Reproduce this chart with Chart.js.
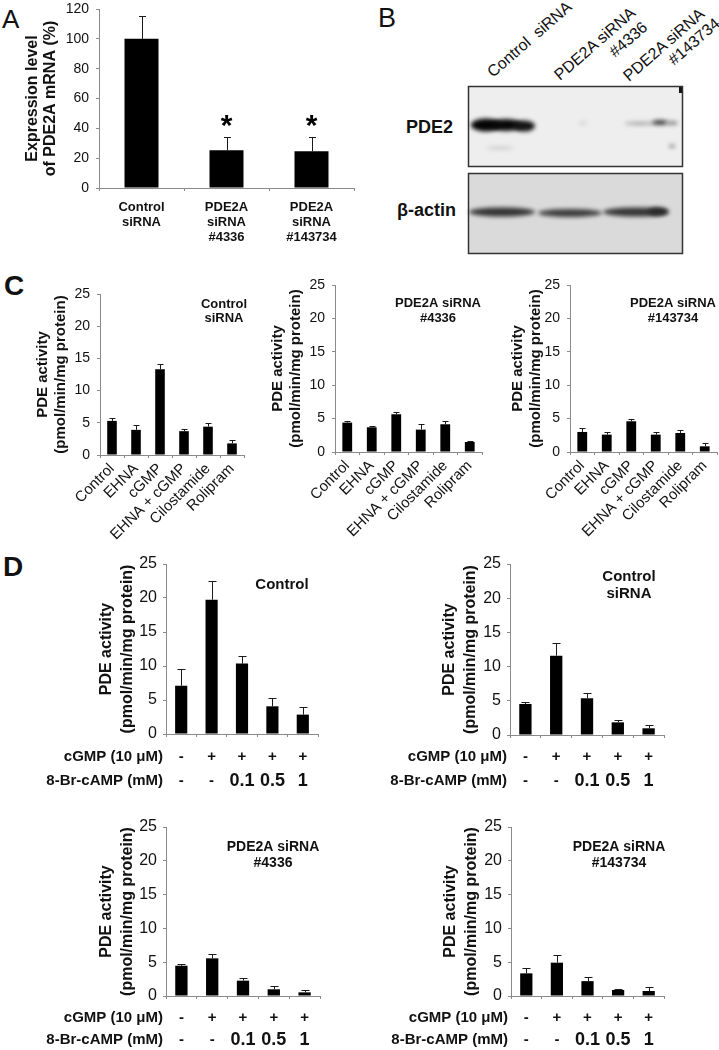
<!DOCTYPE html>
<html>
<head>
<meta charset="utf-8">
<script src="https://cdn.jsdelivr.net/npm/chart.js@4.4.1/dist/chart.umd.min.js"></script>
<style>
  body { margin: 0; background: #fff; width: 719px; height: 1050px; position: relative; overflow: hidden;
         font-family: Arial, "Liberation Sans", sans-serif; color: #111; }
  canvas { position: absolute; }
  .letter { position: absolute; line-height: 1; }
  .rot { position: absolute; font-size: 16px; line-height: 1; white-space: pre;
         transform-origin: 0 0; transform: rotate(-41deg) translate(0, -13px); }
  .blotlbl { position: absolute; font-size: 18px; font-weight: bold; line-height: 1; }
</style>
</head>
<body>
<div class="letter" style="left:2px;top:6px;font-size:26px;">A</div>
<div class="letter" style="left:378px;top:5px;font-size:27px;">B</div>
<div class="letter" style="left:4px;top:272px;font-size:28px;font-weight:bold;">C</div>
<div class="letter" style="left:3px;top:553px;font-size:28px;font-weight:bold;">D</div>

<div class="rot" style="left:493px;top:78px;">Control  siRNA</div>
<div class="rot" style="left:560px;top:81px;">PDE2A siRNA</div>
<div class="rot" style="left:615px;top:58px;">#4336</div>
<div class="rot" style="left:629px;top:82px;">PDE2A siRNA</div>
<div class="rot" style="left:674px;top:66px;">#143734</div>
<div class="blotlbl" style="left:406px;top:118px;">PDE2</div>
<div class="blotlbl" style="left:397px;top:201px;">β-actin</div>

<canvas id="blot" width="230" height="180" style="left:460px;top:80px;"></canvas>
<canvas id="chartA"></canvas>
<canvas id="chartC1"></canvas>
<canvas id="chartC2"></canvas>
<canvas id="chartC3"></canvas>
<canvas id="chartD1"></canvas>
<canvas id="chartD2"></canvas>
<canvas id="chartD3"></canvas>
<canvas id="chartD4"></canvas>

<script>
// ---- data ----
// Panel A: PDE2A mRNA expression (%)
const aLabels = [['Control', 'siRNA'], ['PDE2A', 'siRNA', '#4336'], ['PDE2A', 'siRNA', '#143734']];
const aValues = [100, 25.3, 24.7];
const aErrors = [15, 8.7, 9.6];
const aStars = ['', '*', '*'];

// Panel C: PDE activity with inhibitors
const cLabels = ['Control', 'EHNA', 'cGMP', 'EHNA + cGMP', 'Cilostamide', 'Rolipram'];
const cControlSi = [5.3, 3.9, 13.3, 3.7, 4.4, 1.8];
const cControlSiErr = [0.5, 0.7, 0.9, 0.3, 0.6, 0.5];
const c4336 = [4.4, 3.7, 5.65, 3.35, 4.15, 1.5];
const c4336Err = [0.25, 0.2, 0.35, 0.8, 0.5, 0.15];
const c143734 = [3.0, 2.6, 4.6, 2.6, 2.85, 0.85];
const c143734Err = [0.65, 0.4, 0.3, 0.4, 0.5, 0.5];

// Panel D: cGMP / 8-Br-cAMP
const dCgmp = ['-', '+', '+', '+', '+'];
const dBrCamp = ['-', '-', '0.1', '0.5', '1'];
const dControl = [7.1, 19.75, 10.35, 4.07, 2.85];
const dControlErr = [2.4, 2.7, 1.15, 1.23, 1.12];
const dControlSi = [4.54, 11.6, 5.37, 1.85, 0.98];
const dControlSiErr = [0.24, 1.8, 0.83, 0.35, 0.48];
const d4336 = [4.48, 5.57, 2.27, 0.99, 0.54];
const d4336Err = [0.2, 0.63, 0.39, 0.49, 0.35];
const d143734 = [3.35, 4.93, 2.2, 0.89, 0.74];
const d143734Err = [0.85, 1.13, 0.56, 0.19, 0.54];

const pdeTitle = ['PDE activity', '(pmol/min/mg protein)'];
const FONT = 'Arial, "Liberation Sans", sans-serif';

Chart.defaults.font.family = FONT;
Chart.defaults.color = '#111';

// error bars, stars, in-plot titles and the +/- rows under panel D
function extrasPlugin(errors, opt) {
    return {
        id: 'extras',
        afterDatasetsDraw: function(chart) {
            var ctx = chart.ctx;
            var area = chart.chartArea;
            var xs = chart.scales.x;
            var ys = chart.scales.y;
            var vals = chart.data.datasets[0].data;
            var bars = chart.getDatasetMeta(0).data;
            ctx.save();
            ctx.strokeStyle = '#1a1a1a';
            ctx.lineWidth = 1;
            bars.forEach(function(bar, i) {
                var yTop = Math.round(ys.getPixelForValue(vals[i] + errors[i])) + 0.5;
                var x = Math.round(bar.x) + 0.5;
                ctx.beginPath();
                ctx.moveTo(x, bar.y);
                ctx.lineTo(x, yTop);
                ctx.moveTo(x - opt.cap, yTop);
                ctx.lineTo(x + opt.cap, yTop);
                ctx.stroke();
                if (opt.stars && opt.stars[i]) {
                    ctx.fillStyle = '#000';
                    ctx.font = 'bold 30px ' + FONT;
                    ctx.textAlign = 'center';
                    ctx.textBaseline = 'alphabetic';
                    ctx.fillText(opt.stars[i], bar.x, yTop - 3);
                }
            });

            ctx.fillStyle = '#111';
            if (opt.title) {
                ctx.font = 'bold ' + opt.title.size + 'px ' + FONT;
                ctx.textAlign = 'center';
                ctx.textBaseline = 'middle';
                opt.title.lines.forEach(function(t, i) {
                    ctx.fillText(t, area.left + opt.title.dx, area.top + opt.title.dy + i * opt.title.lh);
                });
            }

            if (opt.rows) {
                ctx.textBaseline = 'middle';
                opt.rows.forEach(function(row) {
                    var y = area.bottom + row.dy;
                    ctx.font = 'bold 15px ' + FONT;
                    ctx.textAlign = 'right';
                    ctx.fillText(row.label, area.left - 3, y);
                    ctx.textAlign = 'center';
                    row.values.forEach(function(v, i) {
                        ctx.font = (v === '+' || v === '-') ? 'bold 15px ' + FONT : 'bold 18px ' + FONT;
                        ctx.fillText(v, xs.getPixelForValue(i), y);
                    });
                });
            }
            ctx.restore();
        }
    };
}

// box = where the plot area sits on the page
function makeChart(id, box, labels, values, errors, opt) {
    var cv = document.getElementById(id);
    var left = box.canvasLeft;
    var top = box.top - box.padTop;
    var w = box.right + box.padRight - left;
    var h = box.bottom + box.xH - top;
    cv.width = w;
    cv.height = h;
    cv.style.left = left + 'px';
    cv.style.top = top + 'px';
    cv.style.width = w + 'px';
    cv.style.height = h + 'px';

    var xTicks = opt.xTicks || { display: false };

    return new Chart(cv, {
        type: 'bar',
        data: {
            labels: labels,
            datasets: [{
                data: values,
                backgroundColor: '#000',
                borderWidth: 0,
                barPercentage: 0.4,
                categoryPercentage: 1
            }]
        },
        options: {
            responsive: false,
            animation: false,
            devicePixelRatio: 1,
            layout: { padding: { top: box.padTop, right: box.padRight, left: 0, bottom: 0 } },
            plugins: { legend: { display: false }, tooltip: { enabled: false } },
            scales: {
                x: {
                    grid: { drawOnChartArea: false, drawTicks: true, tickLength: 3, color: '#8a8a8a', offset: true },
                    border: { color: '#8a8a8a' },
                    ticks: xTicks,
                    afterFit: function(s) { s.height = box.xH; s.paddingLeft = 0; s.paddingRight = 0; }
                },
                y: {
                    min: 0,
                    max: opt.yMax,
                    ticks: { stepSize: opt.yStep, font: { size: opt.tickSize }, color: '#111', padding: opt.tickPad },
                    grid: { drawOnChartArea: false, drawTicks: true, tickLength: 3, color: '#8a8a8a' },
                    border: { color: '#8a8a8a' },
                    title: {
                        display: true,
                        text: opt.yTitle,
                        color: '#111',
                        font: { size: opt.yTitleSize, weight: 'bold', lineHeight: opt.yTitleLh },
                        padding: { top: opt.yTitlePad, bottom: 0 }
                    },
                    afterFit: function(s) { s.width = box.yW; s.paddingTop = 0; s.paddingBottom = 0; }
                }
            }
        },
        plugins: [extrasPlugin(errors, opt)]
    });
}

// ---- Panel A ----
makeChart('chartA',
    { canvasLeft: 0, top: 9, padTop: 9, right: 354, padRight: 6, bottom: 188, xH: 62, yW: 99 },
    aLabels, aValues, aErrors,
    {
        yMax: 120, yStep: 20, tickSize: 14, tickPad: 7,
        yTitle: ['Expression level', 'of PDE2A mRNA (%)'], yTitleSize: 16, yTitleLh: 1.15, yTitlePad: 23,
        xTicks: { font: { size: 13, weight: 'bold', lineHeight: 1.15 }, color: '#111', padding: 9, maxRotation: 0 },
        cap: 3.5, stars: aStars
    });

// ---- Panel C ----
var cTicks = { font: { size: 15 }, color: '#111', padding: 2, minRotation: 45, maxRotation: 45, autoSkip: false };
function cOpt(title) {
    return {
        yMax: 25, yStep: 5, tickSize: 14, tickPad: 7,
        yTitle: pdeTitle, yTitleSize: 15, yTitleLh: 1.2, yTitlePad: 34,
        xTicks: cTicks, cap: 3, title: title
    };
}
var optC1 = cOpt({ lines: ['Control', 'siRNA'], size: 13, dx: 124, dy: 10, lh: 14 });
makeChart('chartC1', { canvasLeft: 0, top: 294, padTop: 12, right: 244, padRight: 4, bottom: 455, xH: 95, yW: 100 },
    cLabels, cControlSi, cControlSiErr, optC1);
var optC2 = cOpt({ lines: ['PDE2A siRNA', '#4336'], size: 13, dx: 103, dy: 18, lh: 15 });
optC2.yTitlePad = 29;
makeChart('chartC2', { canvasLeft: 240, top: 285, padTop: 12, right: 482, padRight: 4, bottom: 452, xH: 95, yW: 95 },
    cLabels, c4336, c4336Err, optC2);
var optC3 = cOpt({ lines: ['PDE2A siRNA', '#143734'], size: 13, dx: 103, dy: 18, lh: 15 });
optC3.yTitlePad = 29;
makeChart('chartC3', { canvasLeft: 480, top: 285, padTop: 12, right: 717, padRight: 2, bottom: 452, xH: 95, yW: 90 },
    cLabels, c143734, c143734Err, optC3);

// ---- Panel D ----
function dOpt(title, pad, dy1, dy2) {
    return {
        yMax: 25, yStep: 5, tickSize: 16, tickPad: 6,
        yTitle: pdeTitle, yTitleSize: 16, yTitleLh: 1.3, yTitlePad: pad,
        cap: 4, title: title,
        rows: [
            { label: 'cGMP (10 μM)', values: dCgmp, dy: dy1 },
            { label: '8-Br-cAMP (mM)', values: dBrCamp, dy: dy2 }
        ]
    };
}
var dLabels = dCgmp.map(function(v, i) { return v + ' ' + dBrCamp[i]; });

makeChart('chartD1', { canvasLeft: 30, top: 564, padTop: 10, right: 318, padRight: 4, bottom: 734, xH: 60, yW: 136 },
    dLabels, dControl, dControlErr,
    dOpt({ lines: ['Control'], size: 15, dx: 116, dy: 21, lh: 17 }, 66, 23, 47));
makeChart('chartD2', { canvasLeft: 375, top: 564, padTop: 10, right: 664, padRight: 4, bottom: 735, xH: 60, yW: 135 },
    dLabels, dControlSi, dControlSiErr,
    dOpt({ lines: ['Control', 'siRNA'], size: 15, dx: 119, dy: 13, lh: 17 }, 64, 22, 46));
makeChart('chartD3', { canvasLeft: 30, top: 827, padTop: 10, right: 320, padRight: 4, bottom: 996, xH: 54, yW: 136 },
    dLabels, d4336, d4336Err,
    dOpt({ lines: ['PDE2A siRNA', '#4336'], size: 14, dx: 107, dy: 20, lh: 16 }, 66, 22, 44));
makeChart('chartD4', { canvasLeft: 375, top: 827, padTop: 10, right: 664, padRight: 4, bottom: 996, xH: 54, yW: 136 },
    dLabels, d143734, d143734Err,
    dOpt({ lines: ['PDE2A siRNA', '#143734'], size: 14, dx: 108, dy: 20, lh: 16 }, 65, 22, 44));

// ---- Panel B: western blot picture ----
function drawBlot() {
    var g = document.getElementById('blot').getContext('2d');
    function band(x, y, rx, ry, color) {
        g.fillStyle = color;
        g.beginPath();
        g.ellipse(x, y, rx, ry, 0, 0, Math.PI * 2);
        g.fill();
    }
    g.fillStyle = '#eeeeee';
    g.fillRect(8, 6, 215, 81);
    g.fillStyle = '#dadada';
    g.fillRect(8, 93, 215, 81);

    g.filter = 'blur(2px)';
    // PDE2 row
    band(26, 45, 15, 6.5, '#050505');
    band(46, 45, 16, 6, '#080808');
    band(64, 46, 11, 5.5, '#151515');
    band(40, 68, 13, 1, '#b8b8b8');
    band(123, 43, 4, 2, '#d6d6d6');
    band(180, 43.5, 16, 1.5, '#9a9a9a');
    band(200, 42.5, 8, 2.5, '#3a3a3a');
    band(212, 43, 6, 2, '#8a8a8a');
    band(212, 66, 3, 1.5, '#777');
    // beta-actin row
    band(42, 132, 33, 4.5, '#333');
    band(110, 133, 32, 4, '#3c3c3c');
    band(176, 132, 33, 4.5, '#353535');
    band(198, 131.5, 10, 4, '#2a2a2a');
    g.filter = 'none';
    g.fillStyle = '#111';
    g.fillRect(219, 6, 4, 7);

    g.strokeStyle = '#333';
    g.lineWidth = 1.5;
    g.strokeRect(8.5, 6.5, 214, 80);
    g.strokeRect(8.5, 93.5, 214, 80);
}
drawBlot();
</script>
</body>
</html>
